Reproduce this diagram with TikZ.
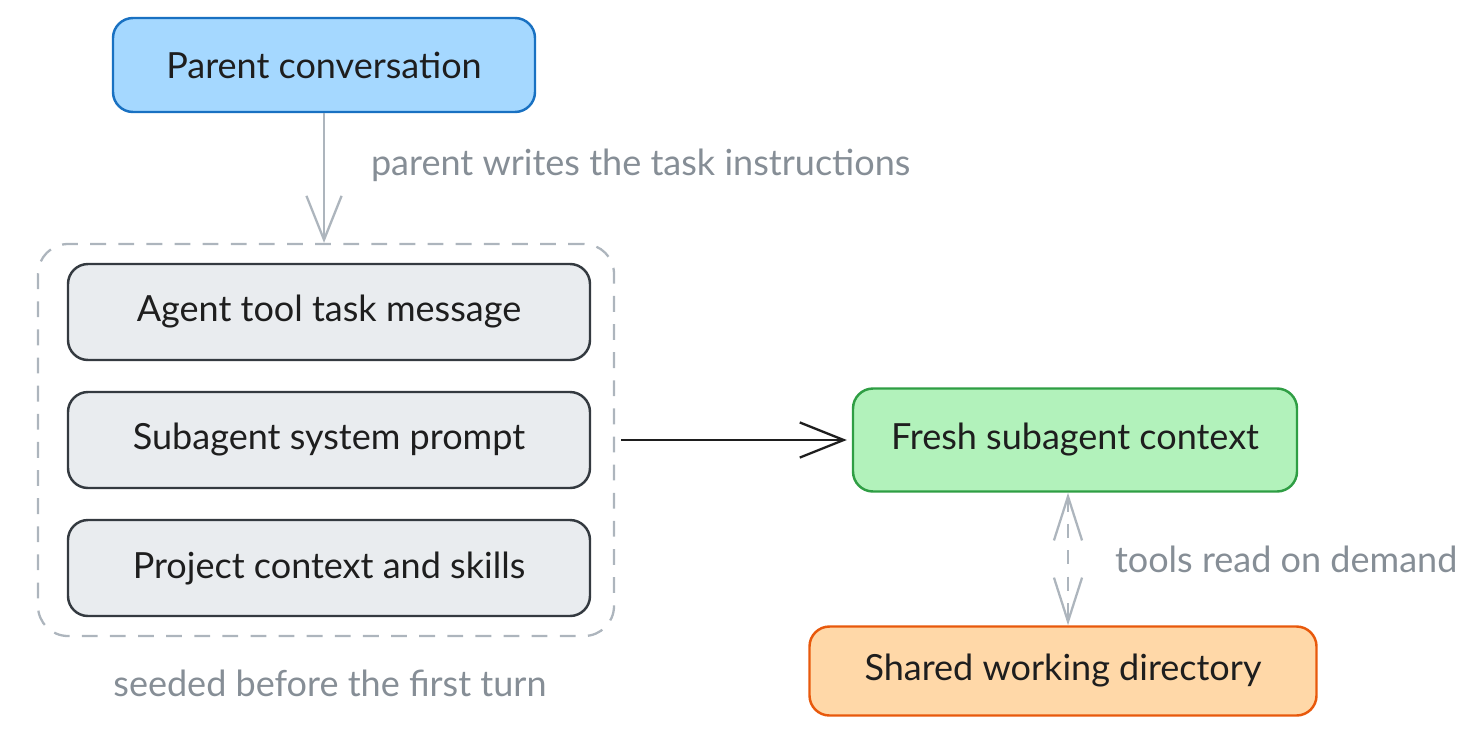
\documentclass[tikz,border=0pt]{standalone}
\usepackage{fontspec}
\setmainfont{Lato}
\usetikzlibrary{shapes.geometric, arrows.meta, positioning}
\definecolor{inkblack}{HTML}{1E1E1E}
\definecolor{parentfill}{HTML}{A5D8FF}
\definecolor{parentline}{HTML}{1971C2}
\definecolor{seedfill}{HTML}{E9ECEF}
\definecolor{seedline}{HTML}{343A40}
\definecolor{freshfill}{HTML}{B2F2BB}
\definecolor{freshline}{HTML}{2F9E44}
\definecolor{sharedfill}{HTML}{FFD8A8}
\definecolor{sharedline}{HTML}{E8590C}
\definecolor{lightline}{HTML}{ADB5BD}
\definecolor{notegray}{HTML}{868E96}
\tikzstyle{box} = [
  rectangle,
  rounded corners=0.4cm,
  text centered,
  line width=1.4pt,
  text=inkblack,
  font=\fontsize{20.5}{24}\selectfont
]
\tikzstyle{parentbox} = [box, draw=parentline, fill=parentfill, minimum width=8.44cm, minimum height=1.88cm]
\tikzstyle{seedbox} = [box, draw=seedline, fill=seedfill, minimum width=10.44cm, minimum height=1.92cm]
\tikzstyle{freshbox} = [box, draw=freshline, fill=freshfill, minimum width=8.88cm, minimum height=2.06cm]
\tikzstyle{sharedbox} = [box, draw=sharedline, fill=sharedfill, minimum width=10.14cm, minimum height=1.78cm]
\tikzstyle{group} = [
  rectangle,
  rounded corners=0.6cm,
  draw=lightline,
  line width=1.3pt,
  dash pattern=on 9pt off 7pt,
  minimum width=11.52cm,
  minimum height=7.84cm
]
\tikzstyle{note} = [text=notegray, font=\fontsize{20.5}{24}\selectfont]
\tikzstyle{arrow} = [line width=1.3pt, -{Straight Barb[length=25pt, width=20pt]}]

\begin{document}
\begin{tikzpicture}[node distance=2.56cm]
    \useasboundingbox (0,0) rectangle (29.36,-15);
    \node (parent-conversation) [parentbox] at (6.48,-1.30) {Parent conversation};
    \node (task-message) [seedbox, below of=parent-conversation, node distance=4.94cm, xshift=0.1cm] {Agent tool task message};
    \node (system-prompt) [seedbox, below of=task-message] {Subagent system prompt};
    \node (project-context) [seedbox, below of=system-prompt] {Project context and skills};
    \node (seed-group) [group, below of=task-message, xshift=-0.06cm] {};
    \node (seed-note) [note, below of=seed-group, node distance=4.86cm, xshift=0.08cm] {seeded before the first turn};
    \node (fresh-context) [freshbox, right of=system-prompt, node distance=14.92cm] {Fresh subagent context};
    \node (shared-dir) [sharedbox, below of=fresh-context, node distance=4.62cm, xshift=-0.24cm] {Shared working directory};

    \draw [arrow, draw=lightline] (parent-conversation.south) -- node[note, pos=0.4, anchor=west, xshift=0.8cm] {parent writes the task instructions} (seed-group.north -| parent-conversation.south);
    \draw [arrow, draw=inkblack, shorten <=0.12cm, shorten >=0.1cm] (seed-group.east |- fresh-context) -- (fresh-context);
    \draw [line width=1.3pt, draw=lightline, dash pattern=on 8pt off 7pt, {Straight Barb[length=25pt, width=16pt]}-{Straight Barb[length=25pt, width=16pt]}] (fresh-context.south -| 21.36,0) -- node[note, anchor=west, xshift=0.8cm] {tools read on demand} (shared-dir.north -| 21.36,0);
  \end{tikzpicture}
\end{document}
